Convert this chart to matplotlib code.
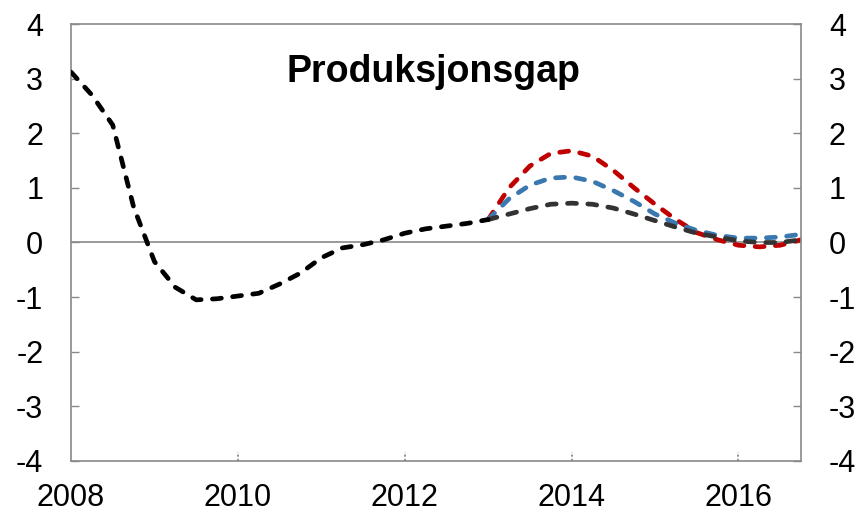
import numpy as np
import matplotlib
matplotlib.use("Agg")
import matplotlib.pyplot as plt

plt.rcParams['font.family'] = ['Liberation Sans', 'DejaVu Sans']
plt.rcParams['axes.unicode_minus'] = False

# kvartalsvis produksjonsgap, 2008K1 - 2016K4
start_aar = 2008
historie = [3.12, 2.7, 2.15, 0.65, -0.35, -0.82, -1.05, -1.03, -0.98, -0.93,
            -0.76, -0.56, -0.28, -0.1, -0.04, 0.05, 0.17, 0.25, 0.3, 0.35, 0.42]
# anslag fra 2013K1
anslag_rod = [0.42, 1.0, 1.4, 1.63, 1.68, 1.58, 1.32, 1.0, 0.7, 0.42,
              0.18, 0.05, -0.05, -0.08, -0.05, 0.05]
anslag_bla = [0.42, 0.8, 1.05, 1.18, 1.2, 1.12, 0.95, 0.75, 0.52, 0.35,
              0.22, 0.13, 0.08, 0.08, 0.1, 0.15]
anslag_gra = [0.42, 0.52, 0.62, 0.7, 0.72, 0.7, 0.63, 0.52, 0.4, 0.28,
              0.17, 0.1, 0.03, 0.0, 0.0, 0.05]
x_etiketter = [2008, 2010, 2012, 2014, 2016]
y_etiketter = [-4, -3, -2, -1, 0, 1, 2, 3, 4]
tittel = "Produksjonsgap"

x_hist = start_aar + np.arange(len(historie)) / 4
x_ansl = x_hist[-1] + np.arange(len(anslag_rod)) / 4

fig = plt.figure(figsize=(8.58, 5.13), dpi=100)
ax = fig.add_axes([0.0828, 0.1014, 0.8508, 0.8518])

grå = '#898989'
stil = dict(linewidth=3.4, linestyle=(0, (1.9, 2.4)), dash_capstyle='round',
            solid_joinstyle='round')

ax.axhline(0, color=grå, linewidth=1.2, zorder=1)
ax.plot(x_ansl, anslag_rod, color='#c00000', zorder=2, **stil)
ax.plot(x_ansl, anslag_bla, color='#3a78b0', zorder=3, **stil)
ax.plot(x_ansl, anslag_gra, color='#333333', zorder=4, **stil)
ax.plot(x_hist, historie, color='black', zorder=5, **stil)

ax.set_xlim(start_aar, x_ansl[-1])
ax.set_ylim(-4, 4)
ax.set_xticks(x_etiketter)
ax.set_yticks(y_etiketter)
ax.tick_params(axis='y', direction='in', length=6, width=1, color=grå,
               left=True, right=True, labelleft=True, labelright=True,
               labelsize=22, pad=20)
ax.tick_params(axis='x', length=0, labelsize=22, pad=16)
# små prikkete merker på x-aksen
ax.vlines(x_etiketter[1:], -4, -3.84, colors=grå, linestyles=(0, (1.2, 1.2)),
          linewidth=1.3)

for s in ax.spines.values():
    s.set_color(grå)
    s.set_linewidth(1.2)

ax.text(0.496, 0.867, tittel, transform=ax.transAxes, ha='center',
        va='baseline', fontsize=27, fontweight='bold')

fig.savefig("out.png", dpi=100)
